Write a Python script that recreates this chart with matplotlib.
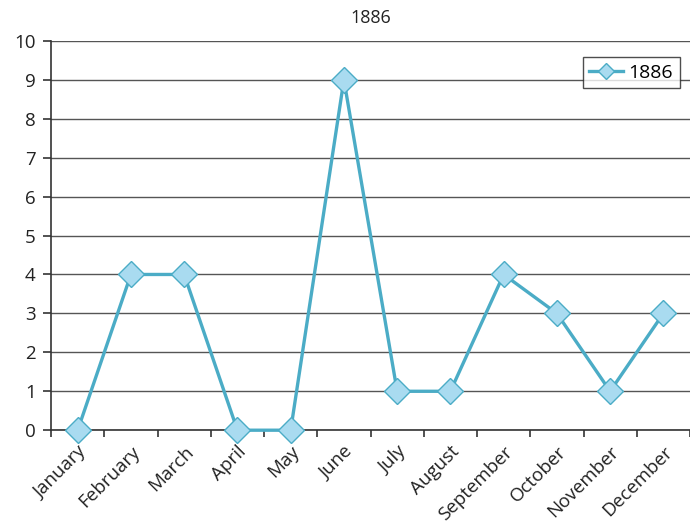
import matplotlib.pyplot as plt
import numpy as np

months = ['January', 'February', 'March', 'April', 'May', 'June', 'July',
          'August', 'September', 'October', 'November', 'December']
counts_1886 = [0, 4, 4, 0, 0, 9, 1, 1, 4, 3, 1, 3]

plt.rcParams['font.family'] = ['Open Sans', 'DejaVu Sans']

fig = plt.figure(figsize=(6.9, 5.24), dpi=100)
ax = fig.add_axes([0.074, 0.179, 0.926, 0.743])

x = np.arange(len(months))
ax.plot(x, counts_1886, color='#4BACC6', lw=2.4, marker='D', ms=13,
        mfc='#A9DBF0', mec='#4BACC6', mew=1, label='1886', clip_on=False, zorder=3)

ax.set_xlim(-0.5, len(months) - 0.5)
ax.set_ylim(0, 10)
ax.set_yticks(range(0, 11))
ax.yaxis.grid(True, color='#555555', lw=1)
ax.set_axisbelow(True)

# tick marks sit between categories, labels under each category
ax.set_xticks(np.arange(-0.5, len(months), 1.0))
ax.set_xticklabels([])
ax.set_xticks(x, minor=True)
ax.set_xticklabels(months, minor=True, rotation=45, ha='right', va='top',
                   rotation_mode='anchor')
ax.tick_params(axis='x', which='minor', length=0, pad=9, labelsize=13.5, colors='#222222')
ax.tick_params(axis='x', which='major', length=5, width=1.2, color='#333333', direction='out')
ax.tick_params(axis='y', length=6, width=1.2, color='#333333', labelsize=13.5,
               labelcolor='#222222', pad=5)

for s in ['top', 'right']:
    ax.spines[s].set_visible(False)
for s in ['left', 'bottom']:
    ax.spines[s].set_color('#333333')
    ax.spines[s].set_linewidth(1.2)

ax.set_title('1886', fontsize=13, color='#222222', pad=13)

leg = ax.legend(loc='upper right', bbox_to_anchor=(0.984, 0.959), borderaxespad=0,
                fontsize=14, frameon=True, fancybox=False, handlelength=1.7,
                handletextpad=0.3, borderpad=0.35, markerscale=0.6)
leg.get_frame().set_edgecolor('#222222')
leg.get_frame().set_linewidth(1)

fig.savefig('out.png', dpi=100)
